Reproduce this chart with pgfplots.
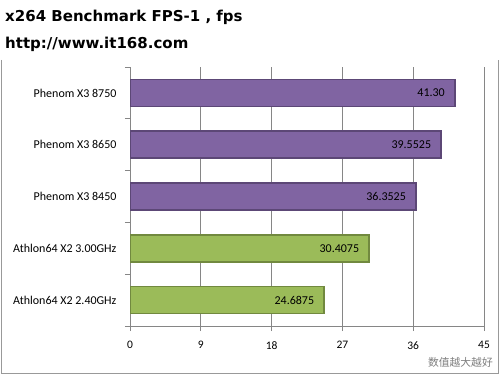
\documentclass[border=0pt]{standalone}
\usepackage{pgfplots}
\pgfplotsset{compat=1.18}
\usepackage{fontspec}
\setmainfont{Carlito}
\newfontfamily\titlefont{DejaVu Sans}
\newfontfamily\cjk{Noto Sans CJK SC}
\definecolor{purplefill}{HTML}{8064A2}
\definecolor{purpleedge}{HTML}{5C4776}
\definecolor{greenfill}{HTML}{9BBB59}
\definecolor{greenedge}{HTML}{71893F}
\definecolor{gridgray}{HTML}{868686}
\begin{document}
\begin{tikzpicture}
\useasboundingbox (0,0) rectangle (500bp,375bp);
\fill[white] (0,0) rectangle (500bp,375bp);
\draw[gray!80, line width=1bp] (1bp,315bp) -- (1bp,1.5bp) -- (498.5bp,1.5bp) -- (498.5bp,315bp);
\node[anchor=west, inner sep=0pt, font=\titlefont\bfseries\fontsize{15bp}{16bp}\selectfont] at (5bp,358bp) {x264 Benchmark FPS-1 , fps};
\node[anchor=west, inner sep=0pt, font=\titlefont\bfseries\fontsize{15bp}{16bp}\selectfont] at (5bp,331bp) {http://www.it168.com};
\node[anchor=east, inner sep=0pt, text=gray, font=\cjk\fontsize{10.8bp}{12bp}\selectfont] at (493bp,13bp) {数值越大越好};
\begin{axis}[
  at={(130bp,49bp)}, anchor=south west,
  scale only axis, width=354bp, height=259bp,
  xmin=0, xmax=45, ymin=-0.5, ymax=4.5,
  /pgf/number format/assume math mode=true,
  xtick={0,9,18,27,36,45},
  minor xtick={0,9,18,27,36,45},
  ytick={0,1,2,3,4},
  yticklabels={Athlon64 X2 2.40GHz, Athlon64 X2 3.00GHz, Phenom X3 8450, Phenom X3 8650, Phenom X3 8750},
  minor ytick={-0.5,0.5,1.5,2.5,3.5,4.5},
  axis x line*=bottom, axis y line*=left,
  axis line style={gridgray, line width=0.8bp, -},
  tick align=outside,
  major tick length=0pt,
  minor tick length=5bp,
  every tick/.style={gridgray, line width=0.8bp},
  xmajorgrids, grid style={gridgray, line width=0.8bp},
  xticklabel style={font=\fontsize{11.5bp}{12bp}\selectfont, yshift=-12bp},
  yticklabel style={font=\fontsize{12bp}{13bp}\selectfont, xshift=-10bp},
  xbar, bar width=27bp, bar shift=0pt,
  nodes near coords, point meta=explicit symbolic,
  every node near coord/.style={anchor=east, xshift=-6bp, font=\fontsize{12bp}{13bp}\selectfont, text=black},
]
\addplot[fill=purplefill, draw=purpleedge, line width=1.5bp] coordinates {
  (41.30,4) [41.30]
  (39.5525,3) [39.5525]
  (36.3525,2) [36.3525]
};
\addplot[fill=greenfill, draw=greenedge, line width=1.5bp] coordinates {
  (30.4075,1) [30.4075]
  (24.6875,0) [24.6875]
};
\end{axis}
\end{tikzpicture}
\end{document}
